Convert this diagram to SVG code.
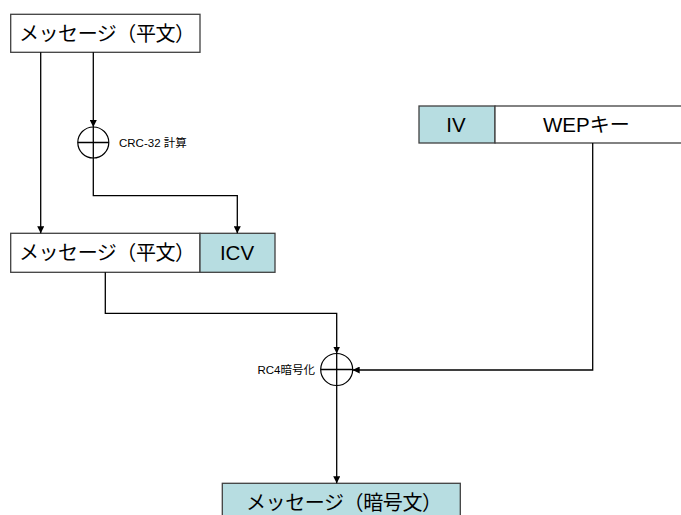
<svg xmlns="http://www.w3.org/2000/svg" width="681" height="515" viewBox="0 0 681 515">
  <defs>
    <marker id="arrow" viewBox="0 0 10 10" refX="10" refY="5" markerWidth="7" markerHeight="7" markerUnits="userSpaceOnUse" orient="auto">
      <path d="M0,0 L10,5 L0,10 Z" fill="#000"/>
    </marker>
    <style>
      .box { fill: #fff; stroke: #404040; stroke-width: 1.3; }
      .teal { fill: #b7dde1; stroke: #404040; stroke-width: 1.3; }
      .jp { font-family: "Noto Sans CJK JP", "Noto Sans CJK SC", sans-serif; font-size: 20px; fill: #000; }
      .lat { font-family: "Liberation Sans", "Noto Sans CJK JP", sans-serif; font-size: 20.5px; fill: #000; }
      .small { font-family: "Liberation Sans", "Noto Sans CJK JP", sans-serif; font-size: 11.5px; fill: #000; }
      .line { fill: none; stroke: #000; stroke-width: 1.3; }
      .xor { fill: #fff; stroke: #000; stroke-width: 1.2; }
    </style>
  </defs>

  <!-- plaintext message -->
  <g id="msg-plain">
    <rect class="box" x="10.7" y="14.3" width="189.3" height="38"/>
    <text class="jp" x="19" y="41" textLength="176" lengthAdjust="spacing">メッセージ（平文）</text>
  </g>

  <!-- IV + WEP key -->
  <g id="iv-wep">
    <rect class="teal" x="419" y="106" width="76" height="37"/>
    <rect class="box" x="495" y="106" width="200" height="37"/>
    <text class="lat" x="456" y="132" text-anchor="middle">IV</text>
    <text class="lat" x="543" y="132">WEP<tspan class="jp">キー</tspan></text>
  </g>

  <!-- message + ICV -->
  <g id="msg-icv">
    <rect class="box" x="10.7" y="233.3" width="189.3" height="39"/>
    <rect class="teal" x="200" y="233.3" width="75" height="39"/>
    <text class="jp" x="19" y="260" textLength="176" lengthAdjust="spacing">メッセージ（平文）</text>
    <text class="lat" x="237" y="260" text-anchor="middle">ICV</text>
  </g>

  <!-- ciphertext -->
  <g id="msg-cipher">
    <rect class="teal" x="222.3" y="483.3" width="238" height="40"/>
    <text class="jp" x="246" y="510" textLength="196" lengthAdjust="spacing">メッセージ（暗号文）</text>
  </g>

  <!-- CRC-32 operation -->
  <g id="crc">
    <circle class="xor" cx="93.3" cy="142.5" r="15.5"/>
    <path class="line" d="M77.8,142.5 H108.8 M93.3,127 V158"/>
    <text class="small" x="119" y="147">CRC-32 計算</text>
  </g>

  <!-- RC4 encryption -->
  <g id="rc4">
    <circle class="xor" cx="336.7" cy="369.5" r="16"/>
    <path class="line" d="M320.7,369.5 H352.7 M336.7,353.5 V385.5"/>
    <text class="small" x="315" y="374" text-anchor="end">RC4暗号化</text>
  </g>

  <!-- connectors -->
  <g id="connectors">
    <path class="line" d="M40.7,52.3 V233.3" marker-end="url(#arrow)"/>
    <path class="line" d="M93.3,52.3 V127" marker-end="url(#arrow)"/>
    <path class="line" d="M93.3,158 V195.7 H237.3 V233.3" marker-end="url(#arrow)"/>
    <path class="line" d="M105.3,272.3 V313.3 H336.7 V353.5" marker-end="url(#arrow)"/>
    <path class="line" d="M592.7,143 V370 H352.7" marker-end="url(#arrow)"/>
    <path class="line" d="M336.7,385.5 V483.3" marker-end="url(#arrow)"/>
  </g>
</svg>
